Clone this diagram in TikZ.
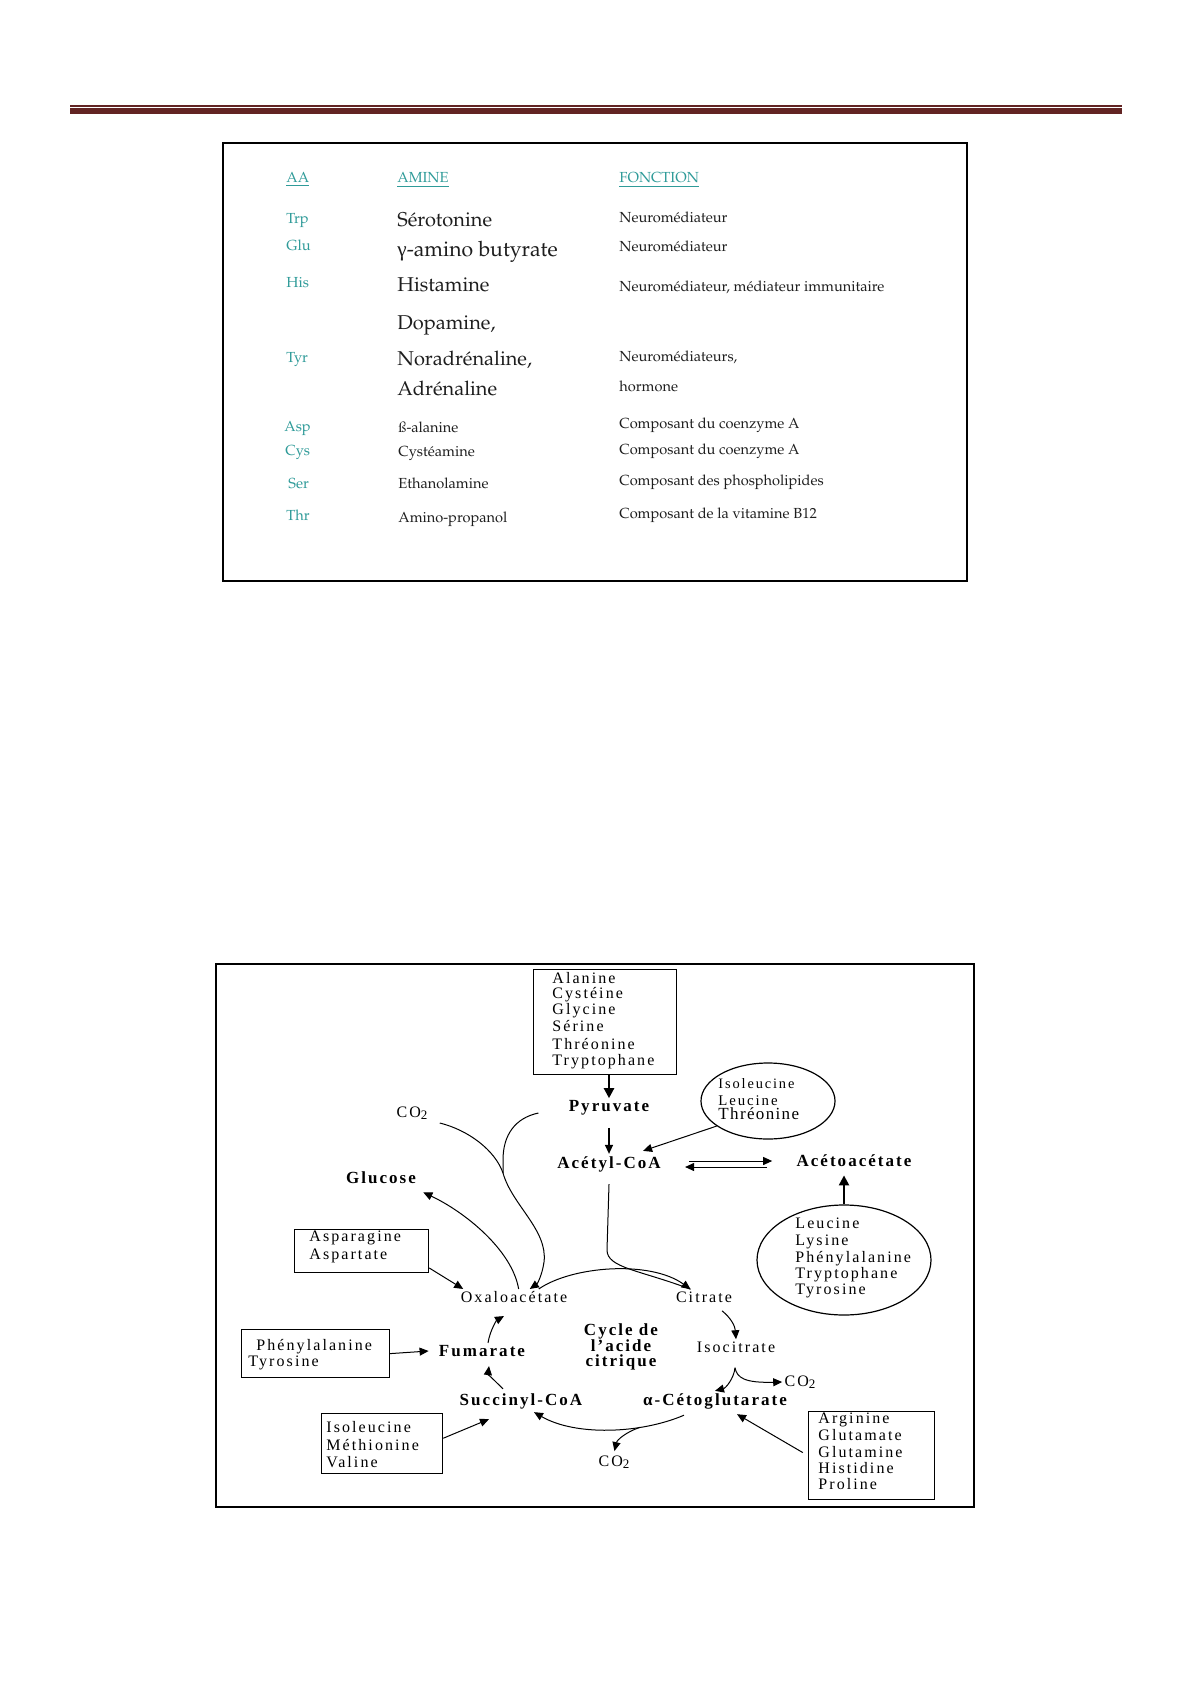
\documentclass[tikz,border=0pt]{standalone}
\usepackage[T1,TU]{fontenc}
\usepackage{fontspec}
\setmainfont{Liberation Serif}
\newfontfamily\dgf[LetterSpace=13]{Liberation Serif}
\newfontfamily\dgfb[LetterSpace=12]{Liberation Serif}
\newfontfamily\dgfn[LetterSpace=8]{Liberation Serif}
\newfontfamily\grk{Liberation Serif}
\newcommand{\palfont}{\fontencoding{T1}\fontfamily{ppl}\selectfont}
\newcommand{\subtwo}{\raisebox{-0.35ex}{\fontsize{6.5}{7}\selectfont 2}}
\usetikzlibrary{arrows.meta,shapes.geometric,calc}
\definecolor{hdrred}{HTML}{622423}
\definecolor{tealc}{HTML}{2F9B99}
\definecolor{tblk}{HTML}{1E1E1E}
\tikzset{
  tabaa/.style={anchor=base west, inner sep=0pt, text=tealc, font=\palfont\fontsize{7.3}{9}\selectfont},
  tabbig/.style={anchor=base west, inner sep=0pt, text=tblk, font=\palfont\fontsize{10}{12}\selectfont},
  tabsm/.style={anchor=base west, inner sep=0pt, text=tblk, font=\palfont\fontsize{7.3}{9}\selectfont},
  dtxt/.style={anchor=base west, inner sep=0pt, font=\dgf\fontsize{8}{9}\selectfont},
  dlab/.style={inner sep=1pt, font=\dgf\fontsize{8}{9}\selectfont},
  dbold/.style={inner sep=1pt, font=\dgfb\bfseries\fontsize{8.5}{10}\selectfont},
  dbox/.style={draw, line width=0.6pt, inner sep=0pt, anchor=north west},
  dell/.style={draw, ellipse, line width=0.6pt, inner sep=0pt},
  arr/.style={-{Triangle[length=4.5pt,width=4pt]}, line width=0.5pt},
  tharr/.style={-{Triangle[length=5pt,width=5pt]}, line width=1.1pt},
  cline/.style={line width=0.5pt}
}
\begin{document}
\begin{tikzpicture}[x=0.5pt,y=-0.5pt]
\fill[white] (0,0) rectangle (1191,1684);
\useasboundingbox (0,0) rectangle (1191,1684);
% header rule
\draw[hdrred,line width=0.7pt] (70,106) -- (1122,106);
\fill[hdrred] (70,108.5) rectangle (1122,114);
% ---------------- table ----------------
\draw[line width=0.7pt] (223,143) rectangle (967,581);
\node[tabaa] (hAA) at (286,183) {\underline{AA}};
\node[tabaa] (hAM) at (397,183) {\underline{AMINE}};
\node[tabaa] (hFO) at (619,183) {\underline{FONCTION}};
\node[tabaa] (aTrp) at (286,224) {Trp};
\node[tabbig] (mTrp) at (397,227) {Sérotonine};
\node[tabsm] (fTrp) at (619,223) {Neuromédiateur};
\node[tabaa] (aGlu) at (286,251) {Glu};
\node[tabbig,font=\palfont\fontsize{10.6}{12}\selectfont] (mGlu) at (397,257) {{\fontencoding{TU}\grk γ}-amino butyrate};
\node[tabsm] (fGlu) at (619,252) {Neuromédiateur};
\node[tabaa] (aHis) at (286,288) {His};
\node[tabbig] (mHis) at (397,292) {Histamine};
\node[tabsm] (fHis) at (619,292) {Neuromédiateur, médiateur immunitaire};
\node[tabbig] (mDop) at (397,330) {Dopamine,};
\node[tabaa] (aTyr) at (286,363) {Tyr};
\node[tabbig] (mNor) at (397,366) {Noradrénaline,};
\node[tabsm] (fTyr) at (619,362) {Neuromédiateurs,};
\node[tabbig] (mAdr) at (397,396) {Adrénaline};
\node[tabsm] (fHor) at (619,392) {hormone};
\node[tabaa] (aAsp) at (284,431) {Asp};
\node[tabsm] (mAsp) at (398,432) {\ss-alanine};
\node[tabsm] (fAsp) at (619,429) {Composant du coenzyme A};
\node[tabaa] (aCys) at (285,456) {Cys};
\node[tabsm] (mCys) at (398,457) {Cystéamine};
\node[tabsm] (fCys) at (619,454) {Composant du coenzyme A};
\node[tabaa] (aSer) at (288,488) {Ser};
\node[tabsm] (mSer) at (398,488) {Ethanolamine};
\node[tabsm] (fSer) at (619,485) {Composant des phospholipides};
\node[tabaa] (aThr) at (286,520) {Thr};
\node[tabsm] (mThr) at (398,522) {Amino-propanol};
\node[tabsm] (fThr) at (619,518) {Composant de la vitamine B12};
% ---------------- diagram ----------------
\draw[line width=1.2pt] (216,964) rectangle (974,1507);
% boxes
\node[dbox,minimum width=71.5pt,minimum height=52.5pt] (topbox) at (533,969) {};
\foreach \t/\yy [count=\i] in {Alanine/983,Cystéine/998,Glycine/1014,Sérine/1031,Thréonine/1049,Tryptophane/1065}
  \node[dtxt] (top\i) at (552,\yy) {\t};
\node[dbox,minimum width=67pt,minimum height=21.5pt] (aspbox) at (294,1229) {};
\node[dtxt] (asp1) at (309,1241) {Asparagine};
\node[dtxt] (asp2) at (309,1259) {Aspartate};
\node[dbox,minimum width=74pt,minimum height=24pt] (phebox) at (241,1329) {};
\node[dtxt] (phe1) at (256,1350) {Phénylalanine};
\node[dtxt] (phe2) at (248,1366) {Tyrosine};
\node[dbox,minimum width=60.5pt,minimum height=30pt] (isobox) at (321,1413) {};
\node[dtxt] (iso1) at (326,1432) {Isoleucine};
\node[dtxt] (iso2) at (326,1450) {Méthionine};
\node[dtxt] (iso3) at (326,1467) {Valine};
\node[dbox,minimum width=63pt,minimum height=44pt] (argbox) at (808,1411) {};
\foreach \t/\yy [count=\i] in {Arginine/1423,Glutamate/1440,Glutamine/1457,Histidine/1473,Proline/1489}
  \node[dtxt] (arg\i) at (818,\yy) {\t};
% ellipses
\node[dell,minimum width=67pt,minimum height=38pt] (ell1) at (768,1101) {};
\node[dtxt,font=\dgf\fontsize{7.2}{9}\selectfont] (el1a) at (718,1088) {Isoleucine};
\node[dtxt,font=\dgf\fontsize{7.4}{9}\selectfont] (el1b) at (718,1105) {Leucine};
\node[dtxt,font=\dgfn\fontsize{8.5}{10}\selectfont] (el1c) at (718,1119) {Thréonine};
\node[dell,minimum width=87pt,minimum height=55pt] (ell2) at (844,1260) {};
\foreach \t/\yy [count=\i] in {Leucine/1228,Lysine/1245,Phénylalanine/1262,Tryptophane/1278,Tyrosine/1294}
  \node[dtxt] (el2\i) at (795,\yy) {\t};
% labels
\node[dlab] (co2a) at (412,1113) {CO\subtwo};
\node[dbold] (pyr) at (609,1108) {Pyruvate};
\node[dbold] (acetyl) at (609,1164) {Acétyl-CoA};
\node[dbold] (aceto) at (854,1161) {Acétoacétate};
\node[dbold] (glucose) at (381,1178) {Glucose};
\node[dlab] (oxa) at (514,1297) {Oxaloacétate};
\node[dlab] (cit) at (704,1297) {Citrate};
\node[dbold] (fum) at (482,1351) {Fumarate};
\node[dbold,align=center,font=\dgfb\bfseries\fontsize{8.5}{7.75}\selectfont] (cyc) at (621,1347) {Cycle de\\l’acide\\citrique};
\node[dlab] (isocit) at (736,1347) {Isocitrate};
\node[dbold] (suc) at (521,1401) {Succinyl-CoA};
\node[dbold] (ket) at (715,1401) {α-Cétoglutarate};
\node[dlab] (co2b) at (800,1382) {CO\subtwo};
\node[dlab] (co2c) at (614,1462) {CO\subtwo};
% connectors
\draw[tharr] (topbox.south -| pyr.north) -- (pyr.north);
\draw[arr,line width=0.7pt,shorten <=5pt] (pyr.south) -- (acetyl.north);
\draw[arr] (ell1.206) -- ($(acetyl.north east)+(-20,-3)$);
\draw[arr] ($(acetyl.east)+(26,-3)$) -- ($(aceto.west)+(-22,0)$);
\draw[arr] ($(aceto.west)+(-27,6)$) -- ($(acetyl.east)+(22,3)$);
\draw[tharr,shorten >=3pt] (ell2.north) -- (ell2.north |- aceto.south);
\coordinate (mrg) at (503,1173);
\draw[cline] ($(co2a.east)+(10,10)$) .. controls (468,1130) and (495,1150) .. (mrg);
\draw[cline] ($(pyr.west)+(-28,5)$) .. controls (515,1118) and (503,1135) .. (503,1160) -- (mrg);
\draw[arr] (mrg) .. controls (512,1205) and (548,1230) .. (544,1262) .. controls (542,1276) and (537,1284) .. (oxa.27);
\draw[arr] (oxa.60) .. controls (512,1250) and (465,1212) .. ($(glucose.south east)+(5,6)$);
\draw[arr] (aspbox.-14) -- (oxa.171);
\draw[arr] (oxa.18) .. controls (572,1266) and (650,1260) .. (cit.150);
\draw[cline] ($(acetyl.south)+(0,10)$) -- (607,1250) .. controls (607,1268) and (640,1270) .. (cit.150);
\draw[arr] ($(cit.south)+(18,6)$) .. controls (731,1318) and (735,1326) .. (isocit.north);
\coordinate (ybr) at ($(isocit.south)+(-1,13)$);
\draw[arr] (ybr) .. controls (734,1378) and (726,1388) .. (ket.north);
\draw[arr] (ybr) .. controls (737,1378) and (745,1383) .. (co2b.west);
\draw[arr] ($(ket.south)+(-31,4)$) .. controls (640,1434) and (575,1436) .. coordinate[pos=0.3] (kb) ($(suc.south)+(13,1)$);
\draw[arr,shorten >=1pt] (kb) .. controls (626,1432) and (617,1440) .. (co2c.north);
\draw[arr] ($(suc.north)+(-18,-2)$) .. controls (495,1381) and (488,1374) .. ($(fum.south)+(7,7)$);
\draw[arr] ($(fum.north)+(6,0)$) .. controls (490,1330) and (497,1320) .. ($(oxa.south)+(-10,11)$);
\draw[arr] (phebox.east) -- ($(fum.west)+(-8,0)$);
\draw[arr] (isobox.5) -- ($(suc.south)+(-32,8)$);
\draw[arr,shorten <=3pt] (argbox.west) -- ($(ket.south)+(22,3)$);
\end{tikzpicture}
\end{document}
